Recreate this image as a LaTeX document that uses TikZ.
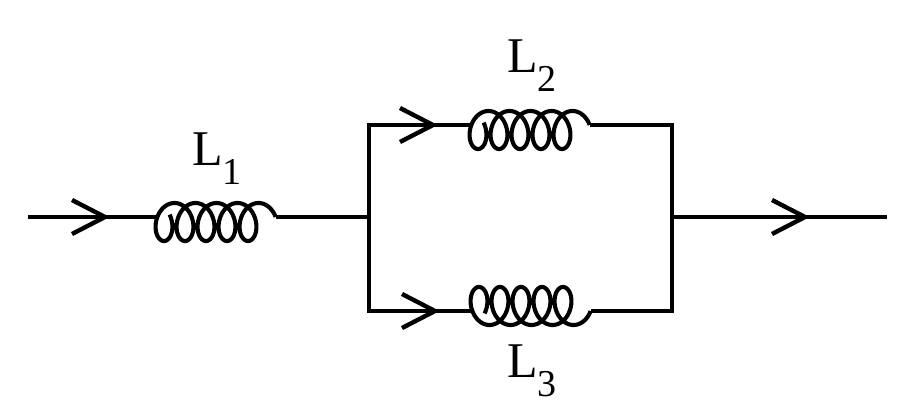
\documentclass[tikz,border=0pt]{standalone}
\usepackage{fontspec}
\setmainfont{Liberation Serif}
\newcommand\coilC{3.342}
\newcommand\coilRx{13.25}
\newcommand\coilRy{19}
\newcommand\coilOff{5}
\newcommand\sublab[1]{L\raisebox{-19pt}{\fontsize{38}{40}\selectfont #1}}
\begin{document}
\begin{tikzpicture}[x=1pt,y=-1pt,
  wire/.style={line width=4.7pt, line cap=butt, line join=miter},
  coilline/.style={line width=4.1pt, line join=round},
  chev/.style={line width=4.4pt, line join=miter},
  lab/.style={inner sep=0pt, anchor=base west, font=\fontsize{50}{60}\selectfont}]
\useasboundingbox (0,0) rectangle (900,415);
% coordinates
\coordinate (in) at (28,217);
\coordinate (out) at (887,217);
\coordinate (jl) at (369,217);
\coordinate (jr) at (672,217);
\coordinate (tl) at (369,125);
\coordinate (bl) at (369,311);
\coordinate (tr) at (672,125);
\coordinate (br) at (672,311);
\coordinate (c1a) at (157.35,217);
\coordinate (c1b) at (275.6,217);
\coordinate (c2a) at (471.35,125);
\coordinate (c2b) at (589.6,125);
\coordinate (c3a) at (472.35,311);
\coordinate (c3b) at (590.6,311);
\coordinate (a1) at (105,217);
\coordinate (a2) at (433,125);
\coordinate (a3) at (435,311);
\coordinate (a4) at (805,217);
% coils
\draw[coilline] plot[domain=-5.112:26.438, samples=500, variable=\t]
  ({156+\coilRx+\coilC*(\t+1.5708)+\coilRx*sin(\t r)}, {217+\coilOff-\coilRy*cos(\t r)});
\draw[coilline] plot[domain=-5.112:26.438, samples=500, variable=\t]
  ({470+\coilRx+\coilC*(\t+1.5708)+\coilRx*sin(\t r)}, {125+\coilOff-\coilRy*cos(\t r)});
\draw[coilline] plot[domain=-5.112:26.438, samples=500, variable=\t]
  ({471+\coilRx+\coilC*(\t+1.5708)+\coilRx*sin(\t r)}, {311-\coilOff+\coilRy*cos(\t r)});
% wires
\draw[wire] (in) -- (c1a);
\draw[wire] (c1b) -- (jl);
\draw[wire] (c2a) -- (tl) -- (bl) -- (c3a);
\draw[wire] (c2b) -- (tr) -- (br) -- (c3b);
\draw[wire] (jr) -- (out);
% arrow chevrons
\foreach \p in {a1,a2,a3,a4}
  \draw[chev] ([shift={(-33,-17)}]\p) -- (\p) -- ([shift={(-33,17)}]\p);
% labels
\node[lab] (lab1) at (192,165) {\sublab{1}};
\node[lab] (lab2) at (507,72) {\sublab{2}};
\node[lab] (lab3) at (507,377) {\sublab{3}};
\end{tikzpicture}
\end{document}
